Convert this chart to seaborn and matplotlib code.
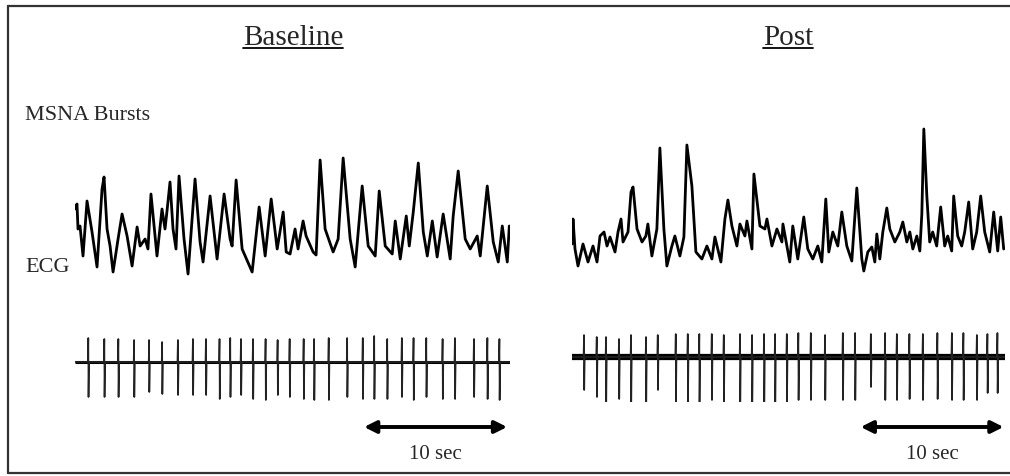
import matplotlib
matplotlib.use('Agg')
import matplotlib.pyplot as plt
import pandas as pd
import seaborn as sns
from matplotlib.lines import Line2D

sns.set_style('white')
plt.rcParams['font.family'] = ['Liberation Serif', 'DejaVu Serif']

# MSNA traces (time in s, amplitude in arbitrary units)
base_msna_t = [0.00, 0.14, 0.21, 0.35, 0.56, 0.84, 1.19, 1.54, 1.89, 2.03, 2.24, 2.45, 2.66,
               3.01, 3.29, 3.64, 3.99, 4.34, 4.55, 4.90, 5.10, 5.31, 5.73, 6.08, 6.29, 6.43,
               6.64, 6.85, 7.06, 7.27, 7.62, 7.90, 8.39, 8.74, 8.95, 9.44, 9.93, 10.42, 10.84,
               10.98, 11.26, 11.68, 12.38, 12.87, 13.29, 13.71, 14.13, 14.55, 14.76, 15.03,
               15.38, 15.59, 15.94, 16.15, 16.64, 16.85, 17.13, 17.48, 18.04, 18.39, 18.74,
               19.23, 19.58, 20.07, 20.49, 20.98, 21.26, 21.68, 22.17, 22.38, 22.73, 23.15,
               23.36, 23.64, 23.99, 24.34, 24.62, 24.97, 25.31, 25.73, 26.22, 26.43, 26.78,
               27.27, 27.62, 28.11, 28.32, 28.81, 29.23, 29.58, 29.86, 30.21, 30.35]
base_msna_v = [4.5, 5.0, 2.5, 2.8, -0.2, 5.3, 2.2, -1.3, 6.5, 7.7, 2.5, 0.8, -1.8,
               1.5, 4.0, 1.8, -1.2, 2.7, 0.8, 1.5, 0.5, 6.0, -0.2, 4.5, 2.5, 4.3,
               7.2, 2.5, 0.5, 7.8, 1.5, -2.0, 7.5, 1.2, -0.8, 5.8, -0.5, 6.0, 1.5,
               0.8, 7.4, 0.5, -1.8, 4.7, -0.2, 5.5, 0.5, 4.2, 0.2, 0.0,
               2.5, 0.5, 3.3, 1.8, 0.2, -0.1, 9.4, 2.5, 0.2, 1.5, 9.6,
               1.5, -1.3, 6.8, 0.8, -0.2, 6.3, 0.8, 0.0, 3.3, -0.5, 3.8,
               0.8, 4.2, 9.1, 2.2, -0.2, 3.3, -0.3, 4.0, -0.5, 3.8, 8.3,
               1.5, 0.5, 1.8, -0.2, 6.8, 1.2, -0.8, 2.8, -0.8, 2.8]

post_msna_t = [0.00, 0.07, 0.21, 0.42, 0.77, 1.12, 1.47, 1.75, 1.96, 2.24, 2.45, 2.66, 3.01,
               3.22, 3.43, 3.57, 3.92, 4.13, 4.27, 4.55, 4.90, 5.17, 5.31, 5.59, 5.94, 6.15,
               6.43, 6.64, 6.99, 7.20, 7.55, 7.83, 8.04, 8.39, 8.67, 9.09, 9.44, 9.79, 10.00,
               10.42, 10.70, 10.91, 11.19, 11.54, 11.75, 12.10, 12.24, 12.59, 12.73, 13.15,
               13.50, 13.64, 13.99, 14.34, 14.69, 14.76, 15.24, 15.45, 15.80, 16.22, 16.50,
               16.85, 17.20, 17.48, 17.76, 17.97, 18.25, 18.60, 18.88, 19.23, 19.58, 19.93,
               20.28, 20.42, 20.70, 20.98, 21.19, 21.33, 21.54, 21.75, 22.03, 22.24, 22.59,
               22.94, 23.15, 23.43, 23.64, 23.85, 24.13, 24.34, 24.48, 24.62, 24.83, 25.03,
               25.24, 25.52, 25.80, 26.08, 26.29, 26.57, 26.71, 26.99, 27.27, 27.48, 27.76,
               28.04, 28.32, 28.60, 28.88, 29.23, 29.51, 29.79, 30.00, 30.21]
post_msna_v = [1.0, 3.5, 0.5, -1.2, 1.0, -0.8, 0.8, -0.8, 1.8, 2.2, 0.8, 1.7, 0.2,
               2.2, 3.5, 1.2, 2.2, 6.2, 6.7, 2.5, 1.2, 1.8, 3.0, -0.2, 2.5, 10.6,
               2.5, -1.2, 0.8, 1.8, -0.2, 1.7, 10.9, 6.8, 0.2, -0.5, 0.8, -0.5, 1.7,
               -0.8, 3.5, 5.4, 2.8, 0.8, 3.0, 1.8, 3.3, 0.5, 8.0, 2.8,
               2.5, 3.5, 0.8, 2.5, 1.2, 3.0, -0.8, 2.8, -0.5, 3.7, 0.5,
               -0.5, 0.8, -0.8, 5.5, 0.2, 2.2, 0.8, 4.2, 0.8, -0.7, 6.6,
               -0.5, -1.7, 0.2, 0.7, -0.8, 2.0, -0.5, 2.2, 4.6, 2.5, 1.2,
               2.2, 3.2, 1.2, 2.2, 0.5, 1.8, 0.3, 4.0, 12.5, 5.8, 1.2,
               2.2, 0.8, 4.7, 0.8, 1.8, 0.3, 5.8, 1.8, 0.8, 2.2, 5.2,
               0.5, 2.2, 5.8, 2.2, 0.2, 4.2, 0.3, 3.7, 0.5]

# ECG beats: R-wave time (s), upward and downward deflection (a.u.)
base_beat_t = [0.93, 2.05, 3.03, 4.13, 5.18, 6.09, 7.19, 8.24, 9.15, 10.10, 10.85, 11.60,
               12.44, 13.32, 14.16, 15.00, 15.98, 16.71, 17.73, 19.02, 20.11, 20.91, 21.82,
               22.84, 23.66, 24.55, 25.69, 26.55, 27.88, 28.82, 29.66]
base_beat_up = [2.4, 2.3, 2.3, 2.2, 2.2, 2.0, 2.2, 2.3, 2.3, 2.3, 2.4, 2.3, 2.3, 2.3, 2.2, 2.3,
                2.3, 2.3, 2.4, 2.4, 2.4, 2.6, 2.3, 2.4, 2.4, 2.4, 2.3, 2.4, 2.3, 2.4, 2.3]
base_beat_down = [3.5, 3.5, 3.5, 3.5, 3.0, 3.2, 3.3, 3.3, 3.3, 3.7, 3.5, 3.3, 3.7, 3.8, 3.3, 3.5,
                  3.7, 3.8, 3.8, 3.5, 3.7, 3.7, 3.7, 3.5, 3.8, 3.5, 3.7, 3.7, 3.5, 3.7, 3.8]

post_beat_t = [0.84, 1.73, 2.38, 3.29, 4.13, 5.18, 6.00, 7.26, 8.10, 8.91, 9.78, 10.62, 11.76,
               12.60, 13.44, 14.21, 15.03, 15.84, 16.71, 17.71, 18.95, 19.81, 20.91, 21.91,
               22.73, 23.61, 24.55, 25.57, 26.58, 27.39, 28.33, 29.07, 29.77]
post_beat_up = [2.2, 2.0, 2.0, 1.8, 2.2, 2.0, 2.2, 2.3, 2.3, 2.3, 2.3, 2.2, 2.3, 2.2, 2.3, 2.3,
                2.3, 2.4, 2.4, 2.2, 2.4, 2.4, 2.3, 2.4, 2.3, 2.3, 2.3, 2.4, 2.4, 2.4, 2.2, 2.3, 2.4]
post_beat_down = [3.3, 4.0, 4.5, 4.2, 4.5, 4.5, 3.3, 4.5, 4.5, 4.5, 4.3, 4.5, 4.5, 4.5, 4.5, 4.5,
                  4.5, 4.3, 4.3, 4.3, 4.3, 4.3, 3.0, 4.3, 4.3, 4.2, 4.3, 4.2, 4.3, 4.3, 4.3, 3.6, 3.6]

base_end = 30.4
post_end = 30.3
scale_bar = (20.2, 30.2)


def ecg_frame(beats, ups, downs, t_end):
    t, v = [0.0], [0.0]
    for b, u, d in zip(beats, ups, downs):
        t += [b - 0.03, b, b + 0.015, b + 0.05]
        v += [0.0, u, -d, 0.0]
    t.append(t_end)
    v.append(0.0)
    return pd.DataFrame({'t': t, 'v': v})


W, H = 1010, 477
fig = plt.figure(figsize=(W / 100, H / 100), dpi=100)


def px_axes(x0, y0, x1, y1):
    # rect given in picture pixels (top-left origin)
    ax = fig.add_axes([x0 / W, 1 - y1 / H, (x1 - x0) / W, (y1 - y0) / H])
    ax.set_axis_off()
    return ax


panels = [
    (75, 510, base_msna_t, base_msna_v, base_beat_t, base_beat_up, base_beat_down, base_end, 318, 2.2),
    (572, 1005, post_msna_t, post_msna_v, post_beat_t, post_beat_up, post_beat_down, post_end, 313, 4.5),
]

for x0, x1, mt, mv, bt, bu, bd, t_end, ecg_top, band in panels:
    ax = px_axes(x0, 120, x1, 285)
    df = pd.DataFrame({'t': mt, 'v': mv})
    sns.lineplot(data=df, x='t', y='v', ax=ax, color='black', lw=2.0,
                 estimator=None, sort=False)
    ax.set_xlim(0, t_end)
    ax.set_ylim(-3.0, 13.5)
    ax.set_axis_off()

    ax = px_axes(x0, ecg_top, x1, ecg_top + 90)
    ecg = ecg_frame(bt, bu, bd, t_end)
    ax.plot([0, t_end], [0, 0], color='black', lw=band, solid_capstyle='butt')
    sns.lineplot(data=ecg, x='t', y='v', ax=ax, color='#222222', lw=1.2,
                 estimator=None, sort=False)
    ax.set_xlim(0, t_end)
    ax.set_ylim(-4.5, 4.5)
    ax.set_axis_off()

    ax = px_axes(x0, 418, x1, 468)
    ax.set_xlim(0, t_end)
    ax.set_ylim(0, 1)
    ax.annotate('', xy=(scale_bar[1], 0.8), xytext=(scale_bar[0], 0.8),
                arrowprops=dict(arrowstyle='<|-|>', lw=2.8, color='black',
                                mutation_scale=18, shrinkA=0, shrinkB=0))
    ax.text(sum(scale_bar) / 2, 0.26, '10 sec', ha='center', va='center', fontsize=15)
    ax.set_axis_off()

titles = [fig.text(293 / W, 1 - 38 / H, 'Baseline', ha='center', va='center', fontsize=21),
          fig.text(788 / W, 1 - 38 / H, 'Post', ha='center', va='center', fontsize=21)]
fig.text(25 / W, 1 - 116 / H, 'MSNA Bursts', ha='left', va='center', fontsize=16)
fig.text(25 / W, 1 - 268 / H, 'ECG', ha='left', va='center', fontsize=16)

# underline the titles
fig.canvas.draw()
for t in titles:
    bb = t.get_window_extent().transformed(fig.transFigure.inverted())
    fig.add_artist(Line2D([bb.x0, bb.x1], [bb.y0 + 2.5 / H, bb.y0 + 2.5 / H], color='black', lw=1.3))

# outer frame (right edge falls outside the picture)
for xs, ys in [([8, 8], [7, 474]), ([8, 1010], [7, 7]), ([8, 1010], [474, 474])]:
    fig.add_artist(Line2D([x / W for x in xs], [1 - y / H for y in ys],
                          color='#333333', lw=1.6))

fig.savefig('out.png', dpi=100)
